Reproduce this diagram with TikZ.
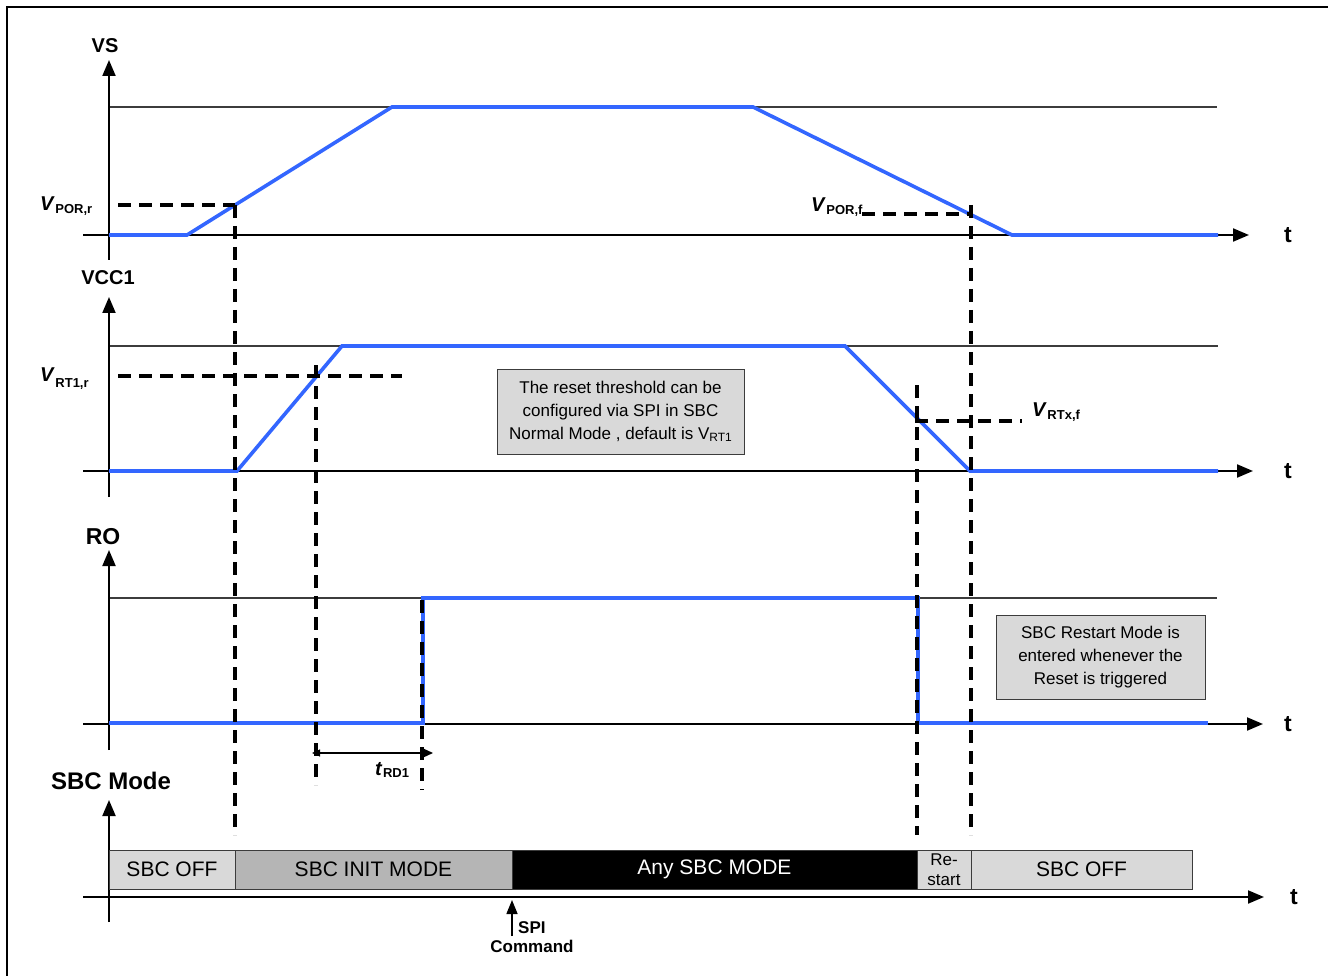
\documentclass[tikz,border=0pt]{standalone}
\usepackage{fontspec}
\setmainfont{Liberation Sans}
\usetikzlibrary{arrows.meta}
\definecolor{wave}{RGB}{51,102,255}
\definecolor{lgray}{RGB}{217,217,217}
\definecolor{mgray}{RGB}{181,181,181}
\definecolor{refline}{RGB}{60,60,60}
\newcommand{\myfs}[1]{\fontsize{#1}{#1}\selectfont}
\begin{document}
\begin{tikzpicture}[x=1pt,y=-1pt,
  axisline/.style={line width=2pt,-{Triangle[length=16pt,width=13pt]}},
  refl/.style={line width=1.3pt,refline},
  waveline/.style={line width=3.6pt,wave,line join=miter},
  dline/.style={line width=3.4pt,black,dash pattern=on 13pt off 8pt},
  axlab/.style={inner sep=0pt,font=\bfseries\myfs{20}},
  tlab/.style={inner sep=0pt,font=\bfseries\myfs{23}},
  vlab/.style={inner sep=0pt,anchor=base west,font=\bfseries\myfs{20}},
  note/.style={draw=refline,line width=1pt,fill=lgray,inner sep=0pt,align=center,font=\fontsize{17}{22.7}\selectfont},
  seg/.style={draw=refline,line width=0.8pt,inner sep=0pt,outer sep=0pt,minimum height=39pt,font=\myfs{21}}
]
\useasboundingbox (0,0) rectangle (1328,976);
% frame
\draw[line width=1.3pt] (7,980) -- (7,7) -- (1330,7);

% ---------- VS ----------
\draw[refl] (109,107) -- (1217,107);
\draw[axisline] (109,260) -- (109,60);
\draw[axisline] (83,235) -- (1249,235);
\node[axlab] (vsl) at (105,46) {VS};
\node[tlab] (t1) at (1288,235) {t};
\draw[waveline] (109,235) -- (187,235) -- (392,107) -- (753,107) -- (1012,235) -- (1218,235);

% ---------- VCC1 ----------
\draw[refl] (109,346) -- (1218,346);
\draw[axisline] (109,497) -- (109,297);
\draw[axisline] (83,471) -- (1253,471);
\node[axlab] (vccl) at (108,278) {VCC1};
\node[tlab] (t2) at (1288,471) {t};
\draw[waveline] (109,471) -- (237,471) -- (342,346) -- (845,346) -- (970,471) -- (1218,471);

% ---------- RO ----------
\draw[refl] (109,598) -- (1217,598);
\draw[axisline] (109,750) -- (109,550);
\draw[axisline] (83,724) -- (1263,724);
\node[axlab,font=\bfseries\myfs{23}] (rol) at (103,537) {RO};
\node[tlab] (t3) at (1288,724) {t};
\draw[waveline] (109,723) -- (423,723) -- (423,598) -- (918,598) -- (918,723) -- (1208,723);

% ---------- SBC Mode ----------
\draw[axisline] (109,922) -- (109,800);
\node[axlab,font=\bfseries\myfs{24}] (sbcl) at (111,781) {SBC Mode};
\node[tlab] (t4) at (1294,897) {t};
\node[seg,fill=lgray,minimum width=126pt] (off1) at (172,869.5) {SBC OFF};
\node[seg,fill=mgray,minimum width=277pt] (init) at (373.5,869.5) {SBC INIT MODE};
\node[seg,fill=black,text=white,minimum width=405pt] (any) at (714.5,869.5) {Any SBC MODE};
\node[seg,fill=lgray,minimum width=54pt,align=center,font=\fontsize{17}{20}\selectfont] (rest) at (944,869.5) {Re-\\start};
\node[seg,fill=lgray,minimum width=221pt] (off2) at (1081.5,869.5) {SBC OFF};
\draw[axisline] (83,897) -- (1264,897);

% SPI command
\coordinate (spitail) at (512,936);
\coordinate (spitip) at (512,900);
\draw[line width=1.5pt,-{Triangle[length=14pt,width=11pt]}] (spitail) -- (spitip);
\node[inner sep=0pt,anchor=west,font=\bfseries\myfs{17}] (spi) at (518,928) {SPI};
\node[inner sep=0pt,font=\bfseries\myfs{17}] (cmd) at (532,946) {Command};

% ---------- threshold dashed lines ----------
\draw[dline] (118,205) -- (235,205);
\draw[dline] (235,205) -- (235,835);
\draw[dline] (862,214) -- (972,214);
\draw[dline] (971,205) -- (971,835);
\draw[dline] (118,376) -- (402,376);
\draw[dline] (316,365) -- (316,785);
\draw[dline] (915,421) -- (1022,421);
\draw[dline] (917,385) -- (917,835);
\draw[dline] (422,600) -- (422,790);

% labels
\node[vlab] (vporr) at (40,211) {\textit{V}\kern0.5pt\raisebox{-3pt}{\myfs{13}POR,r}};
\node[vlab] (vporf) at (811,212) {\textit{V}\kern0.5pt\raisebox{-3pt}{\myfs{13}POR,f}};
\node[vlab] (vrt1) at (40,381) {\textit{V}\kern0.5pt\raisebox{-6pt}{\myfs{13}RT1,r}};
\node[vlab] (vrtx) at (1032,416) {\textit{V}\kern0.5pt\raisebox{-3pt}{\myfs{13}RTx,f}};

% tRD1
\coordinate (rda) at (312,753);
\coordinate (rdb) at (433,753);
\draw[line width=1.3pt,{Triangle[length=8pt,width=7pt]}-{Triangle[length=9pt,width=8pt]}] (rda) -- (rdb);
\node[vlab] (trd) at (375,775) {\textit{t}\kern0.5pt\raisebox{-2pt}{\myfs{13}RD1}};

% notes
\node[note,minimum width=247pt,minimum height=85pt] (note1) at (620.5,411.5)
  {The reset threshold can be\\configured via SPI in SBC\\Normal Mode , default is V\raisebox{-2.5pt}{\myfs{12}RT1}};
\node[note,minimum width=209pt,minimum height=84pt] (note2) at (1100.5,657)
  {SBC Restart Mode is\\entered whenever the\\Reset is triggered};
\end{tikzpicture}
\end{document}
